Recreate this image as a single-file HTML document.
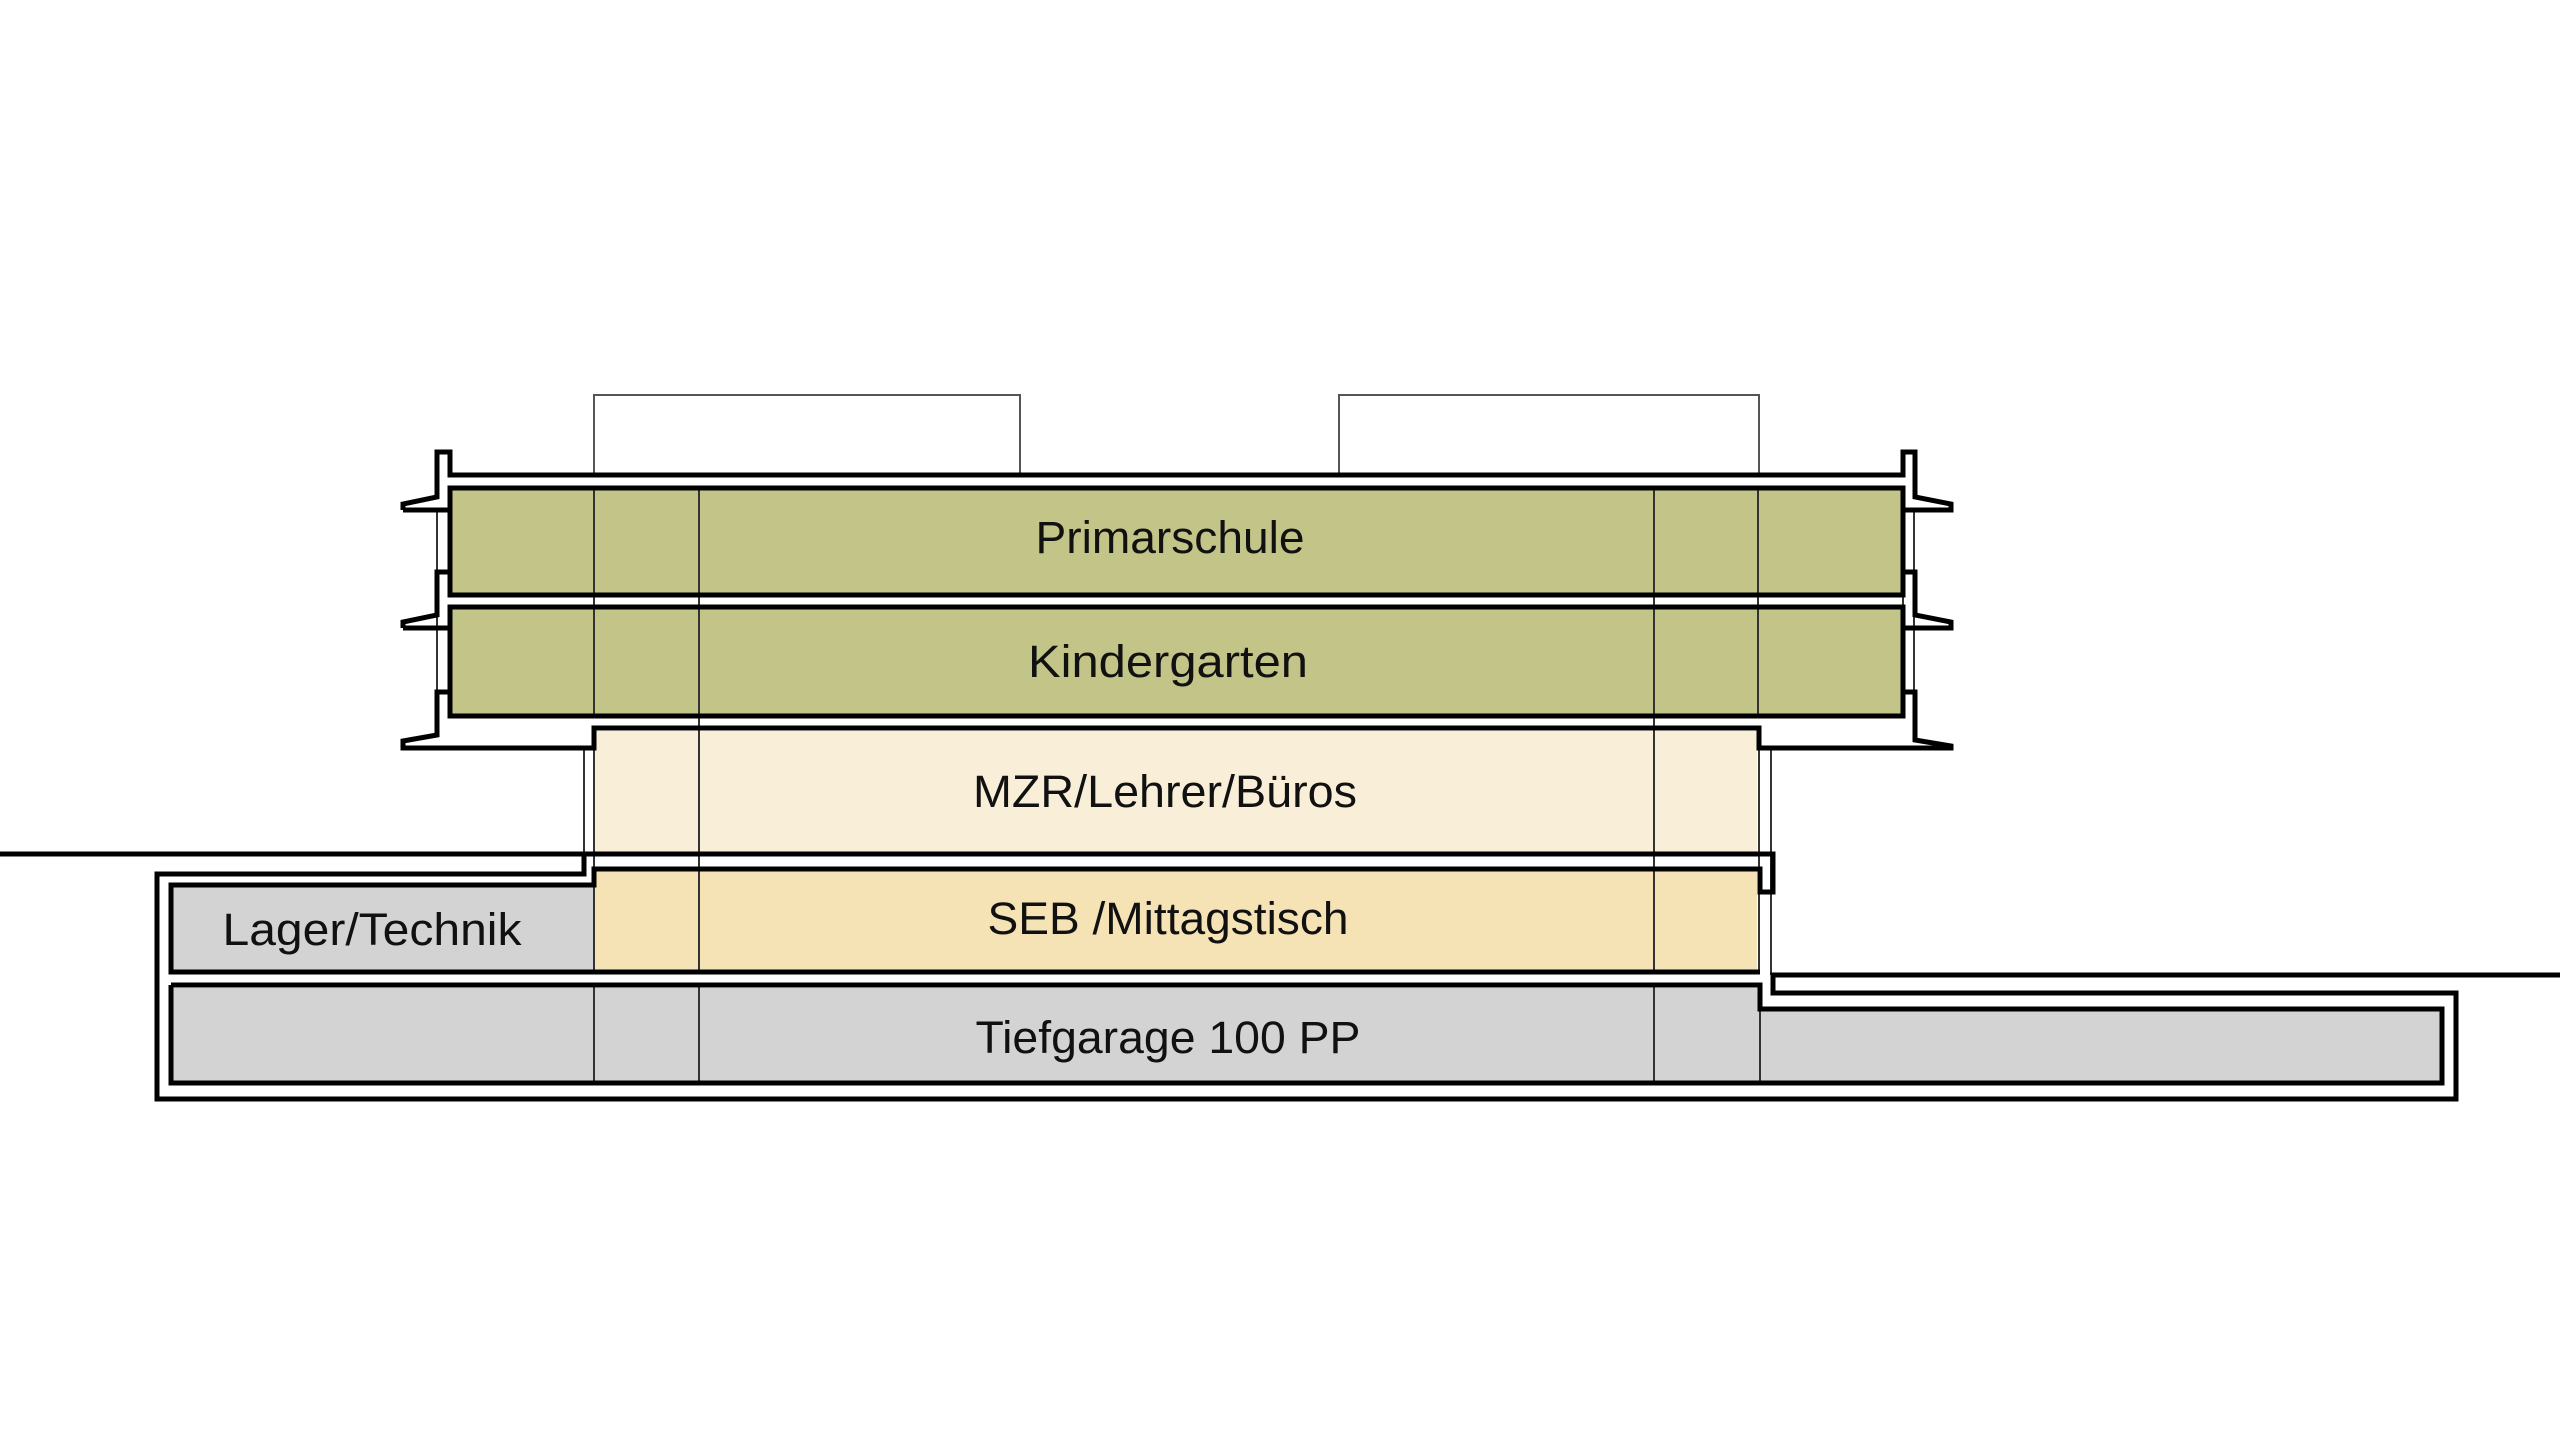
<!DOCTYPE html>
<html><head><meta charset="utf-8"><style>
html,body{margin:0;padding:0;background:#fff;}
svg{display:block;}
text{font-family:"Liberation Sans",sans-serif;font-size:45px;fill:#111;}
</style></head><body>
<svg width="2560" height="1453" viewBox="0 0 2560 1453" xmlns="http://www.w3.org/2000/svg">
<!-- fills -->
<rect x="450" y="490" width="1451" height="104" fill="#c2c587"/>
<rect x="450" y="609" width="1451" height="106" fill="#c2c587"/>
<rect x="595" y="731" width="1162" height="121" fill="#f9eed7"/>
<rect x="595" y="869" width="1162" height="102" fill="#f5e3b5"/>
<rect x="171" y="887" width="424" height="85" fill="#d3d3d3"/>
<rect x="171" y="988" width="1589" height="94" fill="#d3d3d3"/>
<rect x="1760" y="1010" width="680" height="72" fill="#d3d3d3"/>

<!-- rooftop boxes -->
<g fill="none" stroke="#555" stroke-width="2">
<polyline points="594,475 594,395 1020,395 1020,475"/>
<polyline points="1339,475 1339,395 1759,395 1759,475"/>
</g>

<!-- thin lines -->
<g stroke="#333" stroke-width="2">
<line x1="594" y1="488" x2="594" y2="716"/>
<line x1="699" y1="488" x2="699" y2="972"/>
<line x1="1654" y1="488" x2="1654" y2="972"/>
<line x1="1758" y1="488" x2="1758" y2="716"/>
<line x1="594" y1="748" x2="594" y2="972"/>
<line x1="1759" y1="748" x2="1759" y2="972"/>
<line x1="594" y1="985" x2="594" y2="1083"/>
<line x1="699" y1="985" x2="699" y2="1083"/>
<line x1="1654" y1="985" x2="1654" y2="1083"/>
<line x1="1760" y1="1009" x2="1760" y2="1083"/>
<line x1="437" y1="510" x2="437" y2="700"/>
<line x1="1914" y1="510" x2="1914" y2="700"/>
<line x1="584" y1="748" x2="584" y2="854"/>
<line x1="1771" y1="748" x2="1771" y2="975"/>
<line x1="1903" y1="490" x2="1903" y2="716"/>
</g>

<g fill="none" stroke="#000" stroke-width="5" stroke-linejoin="miter">
<polyline points="403,510 450,510 450,488 1903,488 1903,510 1951,510 1951,504 1915,497 1915,452 1903,452 1903,475 450,475 450,452 437,452 437,497 403,504 403,510"/>
<polyline points="450,488 450,595 1903,595 1903,488"/>
<polyline points="403,628 450,628 450,607 1903,607 1903,628 1951,628 1951,622 1915,615 1915,572 1903,572 1903,595"/>
<polyline points="450,595 450,572 437,572 437,615 403,622 403,628"/>
<polyline points="450,607 450,716 1903,716 1903,607"/>
<polyline points="1903,716 1903,692 1915,692 1915,740 1951,746 1951,748 1759,748 1759,728 594,728 594,748 403,748 403,741 437,735 437,692 450,692 450,716"/>
<polyline points="0,854 584,854 584,874 157,874 157,1099 2456,1099 2456,993 1773,993 1773,975 2560,975"/>
<polyline points="584,854 1773,854 1773,892 1760,892 1760,869 594,869 594,885 171,885 171,972 1760,972"/>
<polyline points="171,985 1760,985 1760,1009 2442,1009 2442,1083 171,1083 171,985"/>
</g>

<text x="1170" y="553" text-anchor="middle" textLength="269" lengthAdjust="spacingAndGlyphs">Primarschule</text>
<text x="1168" y="677" text-anchor="middle" textLength="280" lengthAdjust="spacingAndGlyphs">Kindergarten</text>
<text x="1165" y="807" text-anchor="middle" textLength="384" lengthAdjust="spacingAndGlyphs">MZR/Lehrer/Büros</text>
<text x="1168" y="934" text-anchor="middle" textLength="361" lengthAdjust="spacingAndGlyphs">SEB /Mittagstisch</text>
<text x="372" y="945" text-anchor="middle" textLength="299" lengthAdjust="spacingAndGlyphs">Lager/Technik</text>
<text x="1168" y="1053" text-anchor="middle" textLength="385" lengthAdjust="spacingAndGlyphs">Tiefgarage 100 PP</text>
</svg>
</body></html>
